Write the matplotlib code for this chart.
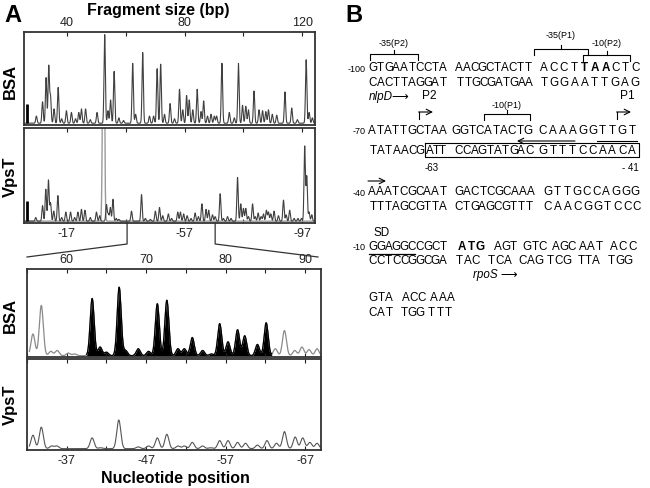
import numpy as np
import matplotlib
matplotlib.use("Agg")
import matplotlib.pyplot as plt

plt.rcParams['font.family'] = ['Liberation Sans', 'DejaVu Sans']

# ---- panel A data: peaks (bp, relative height) ----
bsa_top_bp = [29.7, 31.8, 33.0, 33.9, 34.5, 35.7, 37.1, 38.3, 39.9, 41.6,
              43.0, 44.1, 45.0, 46.4, 48.0, 50.3, 52.9, 54.0, 54.9, 56.1,
              57.7, 59.3, 62.4, 63.4, 65.8, 68.1, 69.5, 70.7, 71.9, 73.2,
              75.1, 76.6, 78.3, 79.4, 80.7, 81.6, 82.8, 84.3, 85.6, 86.5,
              87.8, 89.0, 90.1, 90.9, 92.7, 95.2, 96.9, 98.3, 99.7, 100.8,
              101.7, 103.6, 105.3, 106.5, 107.6, 108.5, 109.8, 111.3, 114.1, 116.4,
              118.3, 121.3, 122.3, 123.4]
bsa_top_h = [0.08, 0.24, 0.51, 0.64, 0.30, 0.16, 0.40, 0.05, 0.14, 0.12,
             0.05, 0.12, 0.16, 0.16, 0.04, 0.12, 0.99, 0.14, 0.26, 0.58,
             0.06, 0.03, 0.67, 0.10, 0.79, 0.08, 0.08, 0.61, 0.66, 0.10,
             0.22, 0.05, 0.38, 0.15, 0.31, 0.26, 0.15, 0.38, 0.13, 0.25,
             0.08, 0.10, 0.08, 0.08, 0.67, 0.12, 0.06, 0.67, 0.20, 0.19,
             0.15, 0.36, 0.15, 0.14, 0.13, 0.15, 0.10, 0.09, 0.35, 0.17,
             0.04, 0.71, 0.12, 0.06]

vpst_top_bp = [29.5, 31.8, 32.9, 33.8, 34.5, 35.6, 37.0, 38.3, 39.7, 41.3,
               42.7, 43.8, 45.0, 46.2, 48.0, 50.1, 51.2, 53.5, 54.1, 54.8,
               55.7, 56.8, 57.7, 62.0, 65.4, 66.7, 68.4, 70.1, 71.5, 72.6,
               74.5, 75.6, 77.7, 78.6, 79.7, 80.9, 82.2, 83.6, 84.7, 85.9,
               87.3, 88.2, 89.5, 90.4, 92.1, 93.2, 94.6, 95.8, 98.0, 99.1,
               100.0, 100.8, 101.7, 103.1, 104.0, 105.0, 106.0, 106.8, 107.8, 108.5,
               109.3, 110.4, 111.9, 113.6, 114.5, 115.7, 117.2, 118.5, 119.7, 120.8,
               121.5, 122.3, 123.2]
vpst_top_h = [0.04, 0.17, 0.35, 0.45, 0.20, 0.11, 0.28, 0.04, 0.10, 0.10,
              0.04, 0.10, 0.13, 0.12, 0.04, 0.10, 0.06, 0.18, 0.08, 0.15,
              0.24, 0.03, 0.02, 0.11, 0.29, 0.03, 0.02, 0.11, 0.15, 0.06,
              0.08, 0.03, 0.10, 0.10, 0.08, 0.06, 0.03, 0.09, 0.05, 0.19,
              0.13, 0.12, 0.07, 0.05, 0.30, 0.03, 0.05, 0.03, 0.48, 0.19,
              0.14, 0.14, 0.05, 0.19, 0.05, 0.09, 0.05, 0.08, 0.12, 0.10,
              0.08, 0.11, 0.06, 0.23, 0.07, 0.12, 0.03, 0.03, 0.03, 0.82,
              0.49, 0.10, 0.07]
vpst_sat_bp = 52.5      # off-scale peak in the VpsT lane
vpst_sat_h = 3.0
marker_bp = 26.5        # size-standard bar at the start of both lanes
marker_h = 0.22

# zoomed region (60-90 bp)
zoom_bsa_bp = [55.75, 56.8, 58.0, 58.8, 60.2, 61.0, 63.2, 64.2, 65.0, 66.6,
               67.4, 69.0, 70.3, 71.4, 72.6, 74.0, 74.8, 75.8, 77.1, 78.2,
               79.25, 80.3, 81.5, 82.4, 84.0, 85.1, 86.25, 87.4, 88.7, 89.6,
               90.5, 91.5]
zoom_bsa_h = [0.25, 0.58, 0.05, 0.06, 0.03, 0.02, 0.66, 0.10, 0.04, 0.79,
              0.06, 0.08, 0.05, 0.60, 0.64, 0.08, 0.08, 0.21, 0.06, 0.02,
              0.37, 0.16, 0.30, 0.23, 0.13, 0.38, 0.08, 0.29, 0.06, 0.10,
              0.07, 0.08]
zoom_vpst_bp = [55.75, 56.8, 58.1, 58.75, 63.2, 64.25, 66.55, 69.0, 70.3, 71.4,
                72.6, 74.0, 74.8, 75.8, 77.1, 78.1, 79.25, 80.3, 81.5, 82.5,
                84.0, 85.2, 86.4, 87.4, 88.75, 89.7, 90.6, 91.5]
zoom_vpst_h = [0.15, 0.24, 0.03, 0.03, 0.12, 0.01, 0.32, 0.02, 0.03, 0.12,
               0.16, 0.03, 0.03, 0.07, 0.03, 0.01, 0.09, 0.09, 0.07, 0.06,
               0.04, 0.09, 0.06, 0.19, 0.13, 0.12, 0.07, 0.06]
footprint = (62.5, 85.8)   # protected region, shaded black

top_ticks = [40, 60, 80, 100, 120]
top_labels = ['40', '', '80', '', '120']
top_pos_labels = ['-17', '', '-57', '', '-97']
zoom_ticks = [55, 60, 65, 70, 75, 80, 85, 90]
zoom_labels = ['', '60', '', '70', '', '80', '', '90']
zoom_pos_labels = ['', '-37', '', '-47', '', '-57', '', '-67']

W, H = 650, 489


def rect(x0, y0, x1, y1):
    return [x0 / W, 1 - y1 / H, (x1 - x0) / W, (y1 - y0) / H]


def trace(x, centers, heights, sigma):
    y = np.zeros_like(x)
    for c, h in zip(centers, heights):
        y += h * np.exp(-0.5 * ((x - c) / sigma) ** 2)
    return y


def style(ax, xlim, ylim):
    ax.set_xlim(*xlim)
    ax.set_ylim(*ylim)
    ax.set_yticks([])
    for s in ax.spines.values():
        s.set_linewidth(1.3)
        s.set_color('#333333')
    ax.tick_params(axis='x', direction='in', length=3, width=0.8,
                   labelsize=9, pad=3, colors='#222222')


fig = plt.figure(figsize=(6.5, 4.89), dpi=100)

# ---- top lanes ----
xt = np.linspace(25.5, 124.3, 4000)
ax1 = fig.add_axes(rect(24, 33, 315, 126))
ax1.plot(xt, trace(xt, bsa_top_bp, bsa_top_h, 0.23), color='#404040', lw=0.8)
ax1.vlines(marker_bp, 0, marker_h, color='black', lw=2)
style(ax1, (25.5, 124.3), (-0.02, 1.02))
ax1.xaxis.tick_top()
ax1.set_xticks(top_ticks)
ax1.set_xticklabels(top_labels)
ax1.tick_params(axis='x', top=True, bottom=False)

ax2 = fig.add_axes(rect(24, 129, 315, 224))
ax2.plot(xt, trace(xt, [vpst_sat_bp], [vpst_sat_h], 0.3), color='#9a9a9a', lw=1.0)
ax2.plot(xt, trace(xt, vpst_top_bp, vpst_top_h, 0.23), color='#404040', lw=0.8)
ax2.vlines(marker_bp, 0, marker_h, color='black', lw=2)
style(ax2, (25.5, 124.3), (-0.02, 1.02))
ax2.set_xticks(top_ticks)
ax2.set_xticklabels(top_pos_labels)
ax2.tick_params(axis='x', top=True, bottom=True, labeltop=False)

# ---- zoomed lanes ----
xz = np.linspace(55.3, 92.0, 3000)
ax3 = fig.add_axes(rect(27, 270, 321, 358))
yz = trace(xz, zoom_bsa_bp, zoom_bsa_h, 0.25)
inside = (xz >= footprint[0]) & (xz <= footprint[1])
ax3.plot(xz, yz, color='#8a8a8a', lw=0.9)
ax3.fill_between(xz, 0, yz, where=inside, color='black', lw=0)
ax3.plot(xz[inside], yz[inside], color='black', lw=0.9)
style(ax3, (55.3, 92.0), (-0.015, 1.0))
ax3.xaxis.tick_top()
ax3.set_xticks(zoom_ticks)
ax3.set_xticklabels(zoom_labels)
ax3.tick_params(axis='x', top=True, bottom=True)

ax4 = fig.add_axes(rect(27, 360, 321, 451))
ax4.plot(xz, trace(xz, zoom_vpst_bp, zoom_vpst_h, 0.25), color='#555555', lw=0.8)
style(ax4, (55.3, 92.0), (-0.015, 1.0))
ax4.set_xticks(zoom_ticks)
ax4.set_xticklabels(zoom_pos_labels)
ax4.tick_params(axis='x', top=True, bottom=True, labeltop=False)

# ---- overlay in pixel coordinates ----
ov = fig.add_axes([0, 0, 1, 1])
ov.set_xlim(0, W)
ov.set_ylim(H, 0)
ov.axis('off')

# connector from the top lane to the zoomed lanes
xl = ax2.transData.transform((60.5, 0))[0]
xr = ax2.transData.transform((90.4, 0))[0]
ov.plot([xl, xl, 27], [224, 245, 258], color='#333333', lw=0.9)
ov.plot([xr, xr, 318], [224, 245, 258], color='#333333', lw=0.9)

ov.text(4, 16, 'A', fontsize=17, fontweight='bold', va='center', ha='left')
ov.text(158, 10, 'Fragment size (bp)', fontsize=11.5, fontweight='bold', va='center', ha='center')
ov.text(175, 478, 'Nucleotide position', fontsize=11.5, fontweight='bold', va='center', ha='center')
for yc, lab in [(81, 'BSA'), (177, 'VpsT'), (315, 'BSA'), (405, 'VpsT')]:
    ov.text(10, yc, lab, fontsize=12, fontweight='bold', rotation=90, va='center', ha='center')

# ---- panel B: sequence ----
ov.text(345, 16, 'B', fontsize=17, fontweight='bold', va='center', ha='left')
SEQ = 8.4
SMALL = 6.5


def group(s, x0, x1, y, weight='normal'):
    # spread the letters of one block evenly between x0 and x1
    pitch = (x1 - x0) / len(s)
    for i, ch in enumerate(s):
        ov.text(x0 + (i + 0.5) * pitch, y, ch, fontsize=SEQ, fontweight=weight,
                va='center', ha='center')


def row(y, blocks):
    for b in blocks:
        group(b[0], b[1], b[2], y, b[3] if len(b) > 3 else 'normal')


def bracket(x0, x1, y, label, ly, xm=None, drop=6):
    xm = (x0 + x1) / 2 if xm is None else xm
    ov.plot([x0, x0, x1, x1], [y + drop, y, y, y + drop], color='k', lw=0.8)
    ov.plot([xm, xm], [y, y - 4], color='k', lw=0.8)
    ov.text(xm, ly, label, fontsize=SMALL, va='center', ha='center')


def arrow(x0, x1, y):
    ov.annotate('', xy=(x1, y), xytext=(x0, y),
                arrowprops=dict(arrowstyle='->', lw=0.8, color='k', shrinkA=0, shrinkB=0))


def tss(x, y, label):
    ov.plot([x, x], [y + 7, y], color='k', lw=0.8)
    arrow(x - 0.4, x + 14, y)
    ov.text(x + 10, y - 17, label, fontsize=8.6, va='center', ha='center')


for yc, lab in [(68, '-100'), (131, '-70'), (192, '-40'), (247, '-10')]:
    ov.text(366, yc + 1, lab, fontsize=SMALL, va='center', ha='right')

bracket(370, 418, 55, '-35(P2)', 43)
bracket(534, 588, 50, '-35(P1)', 36)
bracket(583, 630, 56, '-10(P2)', 43, xm=607)

row(68, [('GTGAATCCTA', 369, 447), ('AACGCTACTT', 455, 532),
         ('ACCT', 539, 579), ('TAA', 579, 611, 'bold'), ('CTC', 611, 640)])
row(83, [('CACTTAGGAT', 369, 447), ('TTGCGATGAA', 457, 533), ('TGGAATTGAG', 539, 640)])

ov.text(369, 97, 'nlpD\u27f6', fontsize=SEQ, style='italic', va='center', ha='left')
tss(419, 113, 'P2')
tss(617, 113, 'P1')
bracket(484, 530, 115, '-10(P1)', 106, xm=507)

row(131, [('ATATTGCTAA', 368, 447), ('GGTCATACTG', 452, 532), ('CAAAGGTTGT', 538, 637)])
arrow(575, 517, 142)
ov.plot([597, 637], [142, 142], color='k', lw=0.8)

row(151, [('TATAACG', 369, 424), ('ATT', 427, 445), ('CCAGTATGAC', 455, 533),
          ('GTTTCCAACA', 538, 637)])
ov.plot([425, 639, 639, 425, 425], [144, 144, 158, 158, 144], color='k', lw=0.8)
ov.text(432, 168, '-63', fontsize=SMALL + 0.5, va='center', ha='center')
ov.text(630, 168, '- 41', fontsize=SMALL + 0.5, va='center', ha='center')

arrow(368, 386, 182)
row(192, [('AAATCGCAAT', 368, 447), ('GACTCGCAAA', 455, 535), ('GTTGCCAGGG', 543, 640)])
row(207, [('TTTAGCGTTA', 369, 447), ('CTGAGCGTTT', 455, 533), ('CAACGGTCCC', 543, 642)])

ov.text(382, 233, 'SD', fontsize=SEQ, va='center', ha='center')
row(247, [('GGAGGCCGCT', 369, 447), ('ATG', 457, 485, 'bold'), ('AGT', 494, 517),
          ('GTC', 523, 547), ('AGC', 552, 575), ('AAT', 579, 603), ('ACC', 609, 637)])
ov.plot([369, 415], [255, 255], color='k', lw=0.9)
row(261, [('CCTCCGGCGA', 369, 447), ('TAC', 455, 480), ('TCA', 487, 512), ('CAG', 518, 543),
          ('TCG', 546, 571), ('TTA', 577, 600), ('TGG', 607, 632)])
ov.text(473, 275, 'rpoS \u27f6', fontsize=SEQ, style='italic', va='center', ha='left')

row(298, [('GTA', 369, 393), ('ACC', 402, 425), ('AAA', 430, 455)])
row(313, [('CAT', 369, 393), ('TGG', 400, 424), ('TTT', 427, 453)])

fig.savefig('out.png', dpi=100)
